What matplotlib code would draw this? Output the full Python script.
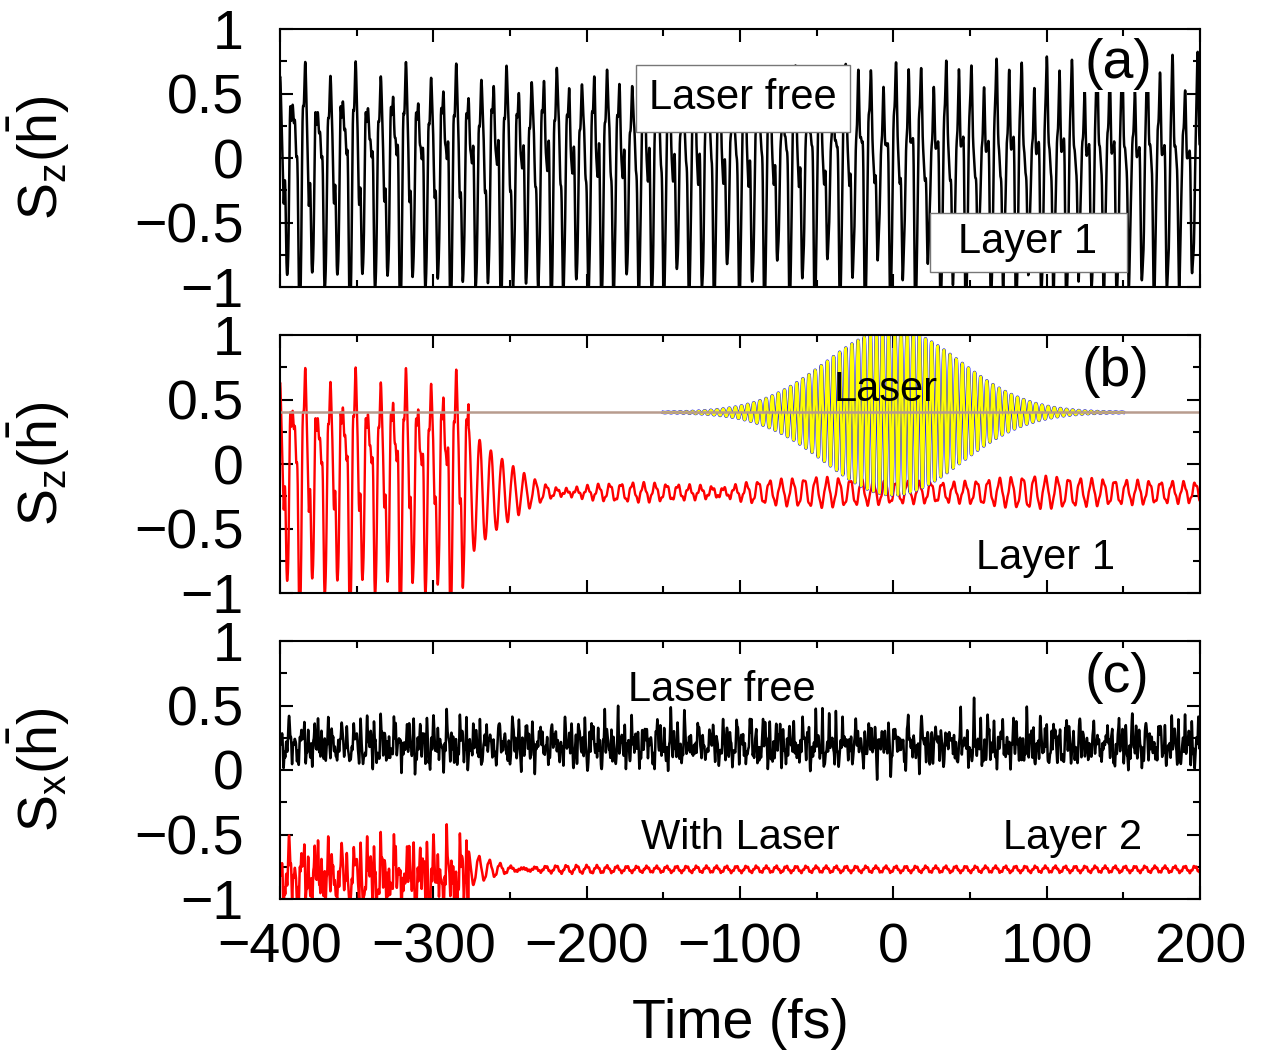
import numpy as np
import matplotlib.pyplot as plt
from matplotlib.patches import Rectangle
from matplotlib.ticker import MultipleLocator

plt.rcParams['font.family'] = ['Liberation Sans', 'DejaVu Sans']
plt.rcParams['mathtext.fontset'] = 'custom'
plt.rcParams['mathtext.rm'] = 'Liberation Sans'
plt.rcParams['mathtext.it'] = 'Liberation Sans:italic'

# time grid (fs)
t = np.arange(-400, 200.01, 0.05)

x_ticks = [-400, -300, -200, -100, 0, 100, 200]
y_ticks = [-1, -0.5, 0, 0.5, 1]
t_cut = -277.0   # where the large precession is quenched

# (a) layer 1 Sz, laser free: level, periods (fs), amplitudes, phases
sz_free_level = -0.1
sz_free_periods = [8.2, 4.1, 2.73, 1.64, 5.5, 3.3]
sz_free_amps = [0.64, 0.22, 0.14, 0.07, 0.13, 0.06]
sz_free_phases = [0.0, 0.6, 3.1, 1.0, 0.3, 2.0]
sz_free_beat = [33.0, 0.1]   # beat period, depth

# (b) layer 1 Sz with laser
sz_las_level = -0.22
sz_las_ring = [0.5, 35.0, 7.2]    # start amplitude, decay (fs), period (fs)
sz_las_tail_t = [-230, -190, -150, -110, -90, -50, 0, 40, 90, 140, 200]
sz_las_tail_amp = [0.08, 0.07, 0.05, 0.03, 0.08, 0.11, 0.08, 0.07, 0.12, 0.09, 0.07]
sz_las_tail_period = 7.5

# laser pulse drawn on panel (b)
laser_base = 0.4
laser_peak = 0.64
laser_sigma = 44.0
laser_period = 4.0
laser_span = 150.0

# (c) layer 2 Sx
sx_free_level = 0.17
sx_free_periods = [8.6, 3.1, 2.3, 1.45, 1.1, 4.7]
sx_free_amps = [0.06, 0.05, 0.05, 0.04, 0.03, 0.03]
sx_free_phases = [0.0, 1.2, 2.5, 0.4, 1.9, 0.8]
sx_free_spike = [4.3, 0.2]      # spike period (fs), height
sx_las_level_pre = -0.86
sx_las_amps_pre = [0.1, 0.07, 0.06, 0.05, 0.04, 0.04]
sx_las_spike_pre = [4.3, 0.28]
sx_las_level = -0.77
sx_las_ring = [0.12, 25.0, 7.0]
sx_las_tail_amp = 0.022
sx_las_tail_period = 6.5


def wave(level, periods, amps, phases):
    s = np.full_like(t, level)
    for p, a, ph in zip(periods, amps, phases):
        s += a * np.sin(2 * np.pi * t / p + ph)
    return s


def spikes(period, height):
    return height * np.clip(np.sin(2 * np.pi * t / period), 0, None) ** 4 \
        * (0.6 + 0.4 * np.sin(2 * np.pi * t / 13.7) ** 2)


beat = 1 + sz_free_beat[1] * np.sin(2 * np.pi * t / sz_free_beat[0])
sz_free = sz_free_level + wave(0, sz_free_periods, sz_free_amps, sz_free_phases) * beat

after = t >= t_cut
dt = t - t_cut
ring = sz_las_ring[0] * np.exp(-dt / sz_las_ring[1]) * np.cos(2 * np.pi * dt / sz_las_ring[2])
tail = np.interp(t, sz_las_tail_t, sz_las_tail_amp) * np.sin(2 * np.pi * t / sz_las_tail_period)
tail += 0.015 * np.sin(2 * np.pi * t / 2.3)
tail *= 1 - np.exp(-np.clip(dt, 0, None) / 30)
sz_las = np.where(after, sz_las_level + ring + tail, sz_free)

env = laser_peak * np.exp(-t ** 2 / (2 * laser_sigma ** 2))
laser = laser_base + env * np.sin(2 * np.pi * t / laser_period)
on = np.abs(t) < laser_span

sx_free = wave(sx_free_level, sx_free_periods, sx_free_amps, sx_free_phases) + spikes(*sx_free_spike)
sx_pre = wave(sx_las_level_pre, sx_free_periods, sx_las_amps_pre, sx_free_phases) + spikes(*sx_las_spike_pre)
ring_c = sx_las_ring[0] * np.exp(-dt / sx_las_ring[1]) * np.cos(2 * np.pi * dt / sx_las_ring[2])
tail_c = sx_las_tail_amp * np.sin(2 * np.pi * t / sx_las_tail_period) \
    + 0.008 * np.sin(2 * np.pi * t / 1.7)
sx_las = np.where(after, sx_las_level + ring_c + tail_c, sx_pre)

fig = plt.figure(figsize=(12.63, 10.57), dpi=100)
left, width, height = 280 / 1263, 920 / 1263, 258 / 1057
bottoms = [1 - 287 / 1057, 1 - 593 / 1057, 1 - 899 / 1057]
axes = [fig.add_axes([left, b, width, height]) for b in bottoms]

axes[0].plot(t, sz_free, color='black', lw=1.8)
axes[1].plot(t, sz_las, color='red', lw=1.7, zorder=2)
axes[1].plot(t[on], laser[on], color='blue', lw=2.5, zorder=3)
axes[1].plot(t[on], laser[on], color='yellow', lw=1.9, zorder=3.5)
axes[1].axhline(laser_base, color='#b89c8e', lw=1.8, zorder=3.8)
axes[2].plot(t, sx_free, color='black', lw=1.8)
axes[2].plot(t, sx_las, color='red', lw=1.8)

ylabels = [r'S$_{\mathrm{z}}$($\bar{\mathrm{h}}$)', r'S$_{\mathrm{z}}$($\bar{\mathrm{h}}$)',
           r'S$_{\mathrm{x}}$($\bar{\mathrm{h}}$)']
for ax, yl in zip(axes, ylabels):
    ax.set_xlim(-400, 200)
    ax.set_ylim(-1, 1)
    ax.set_xticks(x_ticks)
    ax.set_yticks(y_ticks)
    ax.set_yticklabels(['\u22121', '\u22120.5', '0', '0.5', '1'])
    ax.xaxis.set_minor_locator(MultipleLocator(50))
    ax.yaxis.set_minor_locator(MultipleLocator(0.25))
    ax.tick_params(which='both', direction='in', top=True, right=True, width=1.5,
                   labelsize=40)
    ax.tick_params(axis='y', which='both', pad=26)
    ax.tick_params(axis='x', which='both', pad=17)
    ax.tick_params(which='major', length=9.5)
    ax.tick_params(which='minor', length=5)
    for sp in ax.spines.values():
        sp.set_linewidth(1.5)
        sp.set_zorder(5)
    ax.set_ylabel(yl, fontsize=40)
    ax.yaxis.label.set_va('center')
    ax.yaxis.set_label_coords(-0.262, 0.5)

axes[0].tick_params(labelbottom=False)
axes[1].tick_params(labelbottom=False)
axes[2].set_xticklabels(['\u2212400', '\u2212300', '\u2212200', '\u2212100', '0', '100', '200'])
axes[2].set_xlabel('Time (fs)', fontsize=40)
axes[2].xaxis.set_label_coords(0.5, -0.385)

# framed labels in panel (a)
for x0, x1, y0, y1 in [(0.387, 0.6196, 0.599, 0.86), (0.7065, 0.9207, 0.058, 0.288)]:
    axes[0].add_patch(Rectangle((x0, y0), x1 - x0, y1 - y0, transform=axes[0].transAxes,
                                facecolor='white', edgecolor='#777777', lw=1.0, zorder=3))
axes[0].text(0.503, 0.731, 'Laser free', transform=axes[0].transAxes, fontsize=30,
             ha='center', va='center', zorder=4)
axes[0].text(0.813, 0.175, 'Layer 1', transform=axes[0].transAxes, fontsize=30,
             ha='center', va='center', zorder=4)
axes[0].text(0.911, 0.864, '(a)', transform=axes[0].transAxes, fontsize=40, ha='center',
             va='center', zorder=4, bbox=dict(facecolor='white', edgecolor='none', pad=1))
axes[1].text(0.908, 0.857, '(b)', transform=axes[1].transAxes, fontsize=40, ha='center', va='center')
axes[1].text(0.658, 0.787, 'Laser', transform=axes[1].transAxes, fontsize=30, ha='center',
             va='center', zorder=4)
axes[1].text(0.832, 0.136, 'Layer 1', transform=axes[1].transAxes, fontsize=30, ha='center', va='center')
axes[2].text(0.91, 0.857, '(c)', transform=axes[2].transAxes, fontsize=40, ha='center', va='center')
axes[2].text(0.48, 0.81, 'Laser free', transform=axes[2].transAxes, fontsize=30, ha='center', va='center')
axes[2].text(0.5, 0.236, 'With Laser', transform=axes[2].transAxes, fontsize=30, ha='center', va='center')
axes[2].text(0.861, 0.236, 'Layer 2', transform=axes[2].transAxes, fontsize=30, ha='center', va='center')

fig.savefig('out.png', dpi=100)
